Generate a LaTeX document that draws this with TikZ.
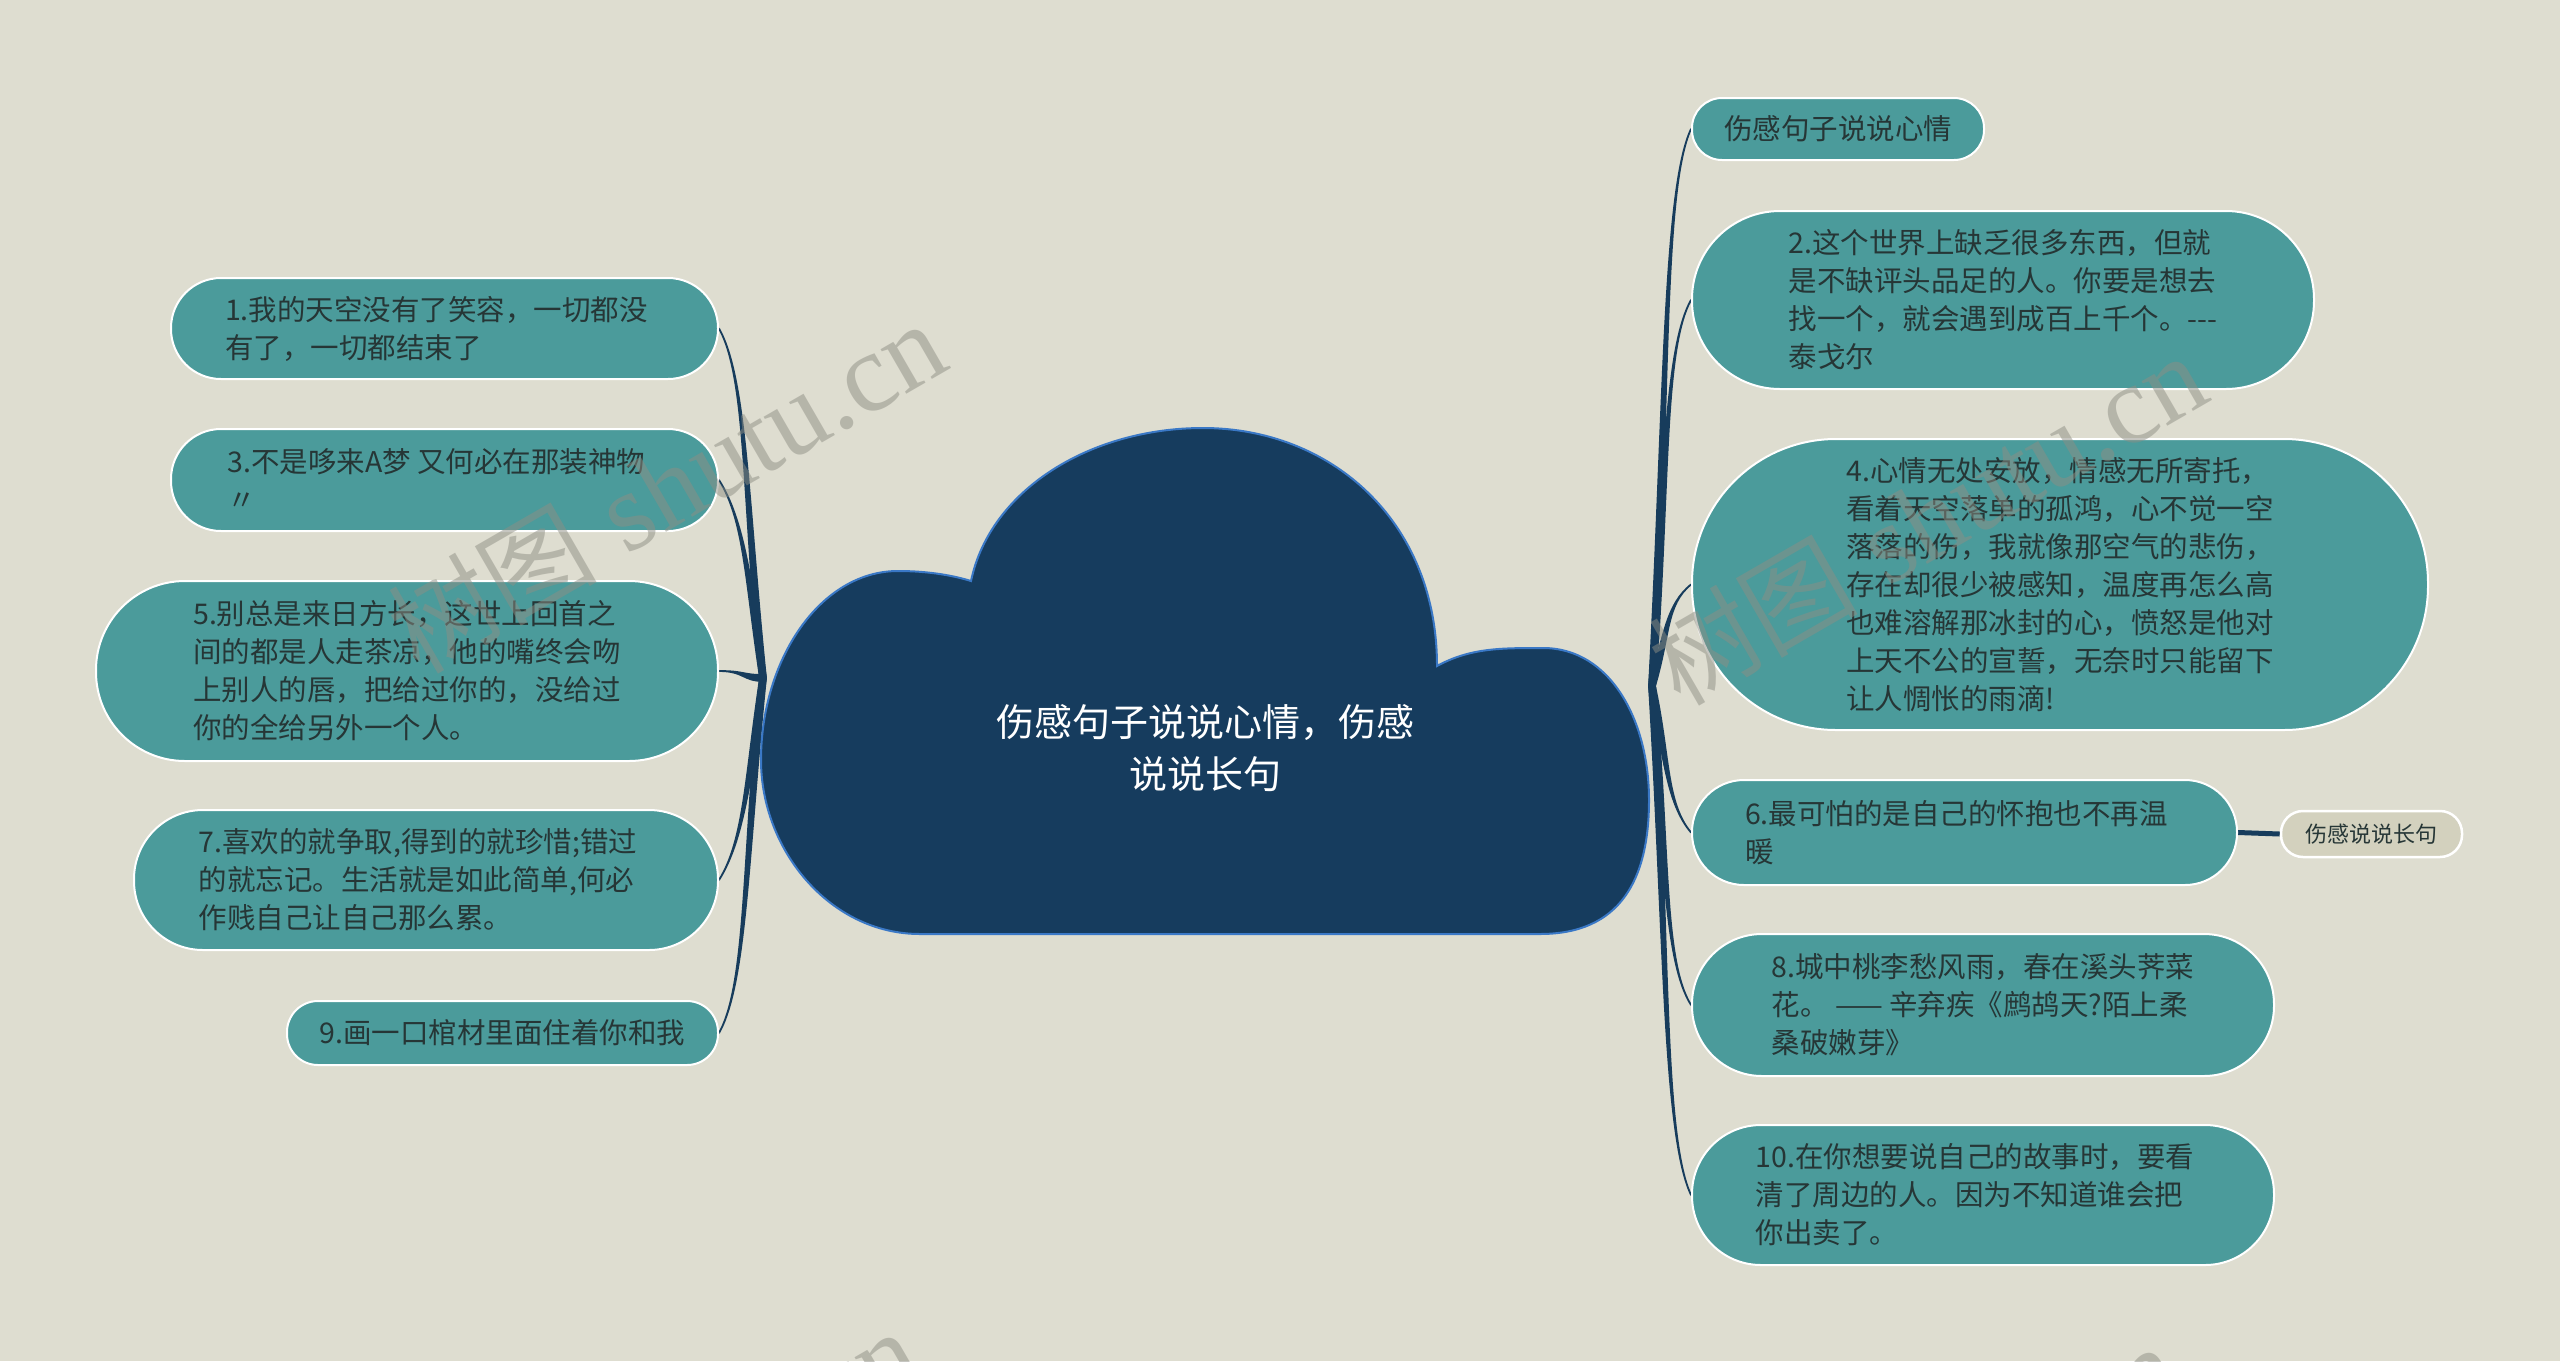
\documentclass[tikz,border=0pt]{standalone}
\usepackage{fontspec}
\setmainfont{Noto Sans CJK SC}
\newfontfamily\wmserif{Liberation Serif}
\usetikzlibrary{calc}
\definecolor{bgc}{HTML}{DEDDD0}
\definecolor{nodeteal}{HTML}{4B9B9B}
\definecolor{txtc}{HTML}{263636}
\definecolor{navyc}{HTML}{163C5E}
\definecolor{cloudedge}{HTML}{3A78C6}
\definecolor{connc}{HTML}{173C5C}
\definecolor{smallfill}{HTML}{D3D1BE}
\definecolor{wmc}{HTML}{8E8E84}
\pgfdeclarelayer{bgl}
\pgfdeclarelayer{lines}
\pgfdeclarelayer{wml}
\pgfsetlayers{bgl,lines,main,wml}
\newcommand{\shl}{\hspace*{16pt}}
\begin{document}
\begin{tikzpicture}[x=1pt,y=-1pt,
  box/.style={draw=white, line width=2pt, fill=nodeteal, text=txtc, inner sep=0pt,
              align=left, font=\fontsize{28.5}{38}\selectfont},
  smallbox/.style={draw=white, line width=2.5pt, fill=smallfill, text=txtc, inner sep=0pt,
              font=\fontsize{22}{26}\selectfont},
  connector/.style={draw=connc, fill=connc, line width=1.8pt, line join=round, line cap=round},
  wmark/.style={text=wmc, opacity=0.5, rotate=30, inner sep=0pt, anchor=center}]
\useasboundingbox (0,0) rectangle (2560,1361);
\begin{pgfonlayer}{bgl}
\fill[bgc] (0,0) rectangle (2560,1361);
\end{pgfonlayer}

% cloud
\draw[fill=navyc, draw=cloudedge, line width=2pt]
  (971,581) .. controls (990,490) and (1090,428) .. (1203,428)
  .. controls (1330,428) and (1437,520) .. (1437,666)
  .. controls (1470,648) and (1500,648) .. (1543,648)
  .. controls (1610,648) and (1649,720) .. (1649,800)
  .. controls (1649,880) and (1620,934) .. (1540,934)
  -- (920,934)
  .. controls (830,934) and (761,850) .. (761,760)
  .. controls (761,660) and (820,571) .. (898,571)
  .. controls (930,571) and (955,576) .. (971,581) -- cycle;
\node[text=white, align=center, inner sep=0pt, font=\fontsize{38}{52}\selectfont] (core) at (1205,748)
  {伤感句子说说心情，伤感\\说说长句};
\coordinate (J1) at (763,678);
\coordinate (J2) at (1652,686);

% left nodes
\node[box, minimum width=547pt, minimum height=101pt, rounded corners=50pt] (n1) at (444.5,328.5)
  {1.我的天空没有了笑容，一切都没\shl\\有了，一切都结束了};
\node[box, minimum width=547pt, minimum height=102pt, rounded corners=50pt] (n3) at (444.5,480)
  {3.不是哆来A梦 又何必在那装神物\shl\\〃};
\node[box, minimum width=622pt, minimum height=180pt, rounded corners=89pt] (n5) at (407,671)
  {5.别总是来日方长，这世上回首之\\间的都是人走茶凉，他的嘴终会吻\shl\\上别人的唇，把给过你的，没给过\\你的全给另外一个人。};
\node[box, minimum width=584pt, minimum height=140pt, rounded corners=69pt] (n7) at (426,880)
  {7.喜欢的就争取,得到的就珍惜;错过\shl\\的就忘记。生活就是如此简单,何必\\作贱自己让自己那么累。};
\node[box, minimum width=431pt, minimum height=64pt, rounded corners=31pt] (n9) at (502.5,1033)
  {9.画一口棺材里面住着你和我};

% right nodes
\node[box, minimum width=292pt, minimum height=62pt, rounded corners=30pt] (r0) at (1838,129)
  {伤感句子说说心情};
\node[box, minimum width=622pt, minimum height=178pt, rounded corners=88pt] (r2) at (2003,300)
  {2.这个世界上缺乏很多东西，但就\\是不缺评头品足的人。你要是想去\\找一个，就会遇到成百上千个。-{}-{}-\shl\\泰戈尔};
\node[box, minimum width=736pt, minimum height=291pt, rounded corners=144pt] (r4) at (2060,584.5)
  {4.心情无处安放，情感无所寄托，\\看着天空落单的孤鸿，心不觉一空\shl\\落落的伤，我就像那空气的悲伤，\\存在却很少被感知，温度再怎么高\\也难溶解那冰封的心，愤怒是他对\\上天不公的宣誓，无奈时只能留下\\让人惆怅的雨滴!};
\node[box, minimum width=545pt, minimum height=105pt, rounded corners=52pt] (r6) at (1964.5,832.5)
  {6.最可怕的是自己的怀抱也不再温\shl\\暖};
\node[smallbox, minimum width=181pt, minimum height=46pt, rounded corners=22pt] (s6) at (2371.5,834)
  {伤感说说长句};
\node[box, minimum width=582pt, minimum height=142pt, rounded corners=70pt] (r8) at (1983,1005)
  {8.城中桃李愁风雨，春在溪头荠菜\\花。 —— 辛弃疾《鹧鸪天?陌上柔\shl\\桑破嫩芽》};
\node[box, minimum width=582pt, minimum height=140pt, rounded corners=69pt] (r10) at (1983,1195)
  {10.在你想要说自己的故事时，要看\shl\\清了周边的人。因为不知道谁会把\\你出卖了。};

% connectors (tapered)
\begin{pgfonlayer}{lines}
\draw[connector] ($(J1)+(-3,0)$) .. controls +(-18,-175) and +(28,50) .. (n1.east)
  .. controls +(28,50) and +(-18,-175) .. ($(J1)+(3,0)$) -- cycle;
\draw[connector] ($(J1)+(-3,0)$) .. controls +(-15,-100) and +(25,40) .. (n3.east)
  .. controls +(25,40) and +(-15,-100) .. ($(J1)+(3,0)$) -- cycle;
\draw[connector] ($(J1)+(0,-3)$) .. controls +(-20,0) and +(25,0) .. (n5.east)
  .. controls +(25,0) and +(-20,0) .. ($(J1)+(0,3)$) -- cycle;
\draw[connector] ($(J1)+(-3,0)$) .. controls +(-15,100) and +(25,-40) .. (n7.east)
  .. controls +(25,-40) and +(-15,100) .. ($(J1)+(3,0)$) -- cycle;
\draw[connector] ($(J1)+(-3,0)$) .. controls +(-18,175) and +(28,-50) .. (n9.east)
  .. controls +(28,-50) and +(-18,175) .. ($(J1)+(3,0)$) -- cycle;
\draw[connector] ($(J2)+(-3,0)$) .. controls +(15,-280) and +(-28,60) .. (r0.west)
  .. controls +(-28,60) and +(15,-280) .. ($(J2)+(3,0)$) -- cycle;
\draw[connector] ($(J2)+(-3,0)$) .. controls +(15,-190) and +(-28,50) .. (r2.west)
  .. controls +(-28,50) and +(15,-190) .. ($(J2)+(3,0)$) -- cycle;
\draw[connector] ($(J2)+(-3,0)$) .. controls +(15,-50) and +(-25,20) .. (r4.west)
  .. controls +(-25,20) and +(15,-50) .. ($(J2)+(3,0)$) -- cycle;
\draw[connector] ($(J2)+(-3,0)$) .. controls +(15,70) and +(-25,-30) .. (r6.west)
  .. controls +(-25,-30) and +(15,70) .. ($(J2)+(3,0)$) -- cycle;
\draw[connector] ($(J2)+(-3,0)$) .. controls +(15,160) and +(-28,-45) .. (r8.west)
  .. controls +(-28,-45) and +(15,160) .. ($(J2)+(3,0)$) -- cycle;
\draw[connector] ($(J2)+(-3,0)$) .. controls +(15,250) and +(-28,-60) .. (r10.west)
  .. controls +(-28,-60) and +(15,250) .. ($(J2)+(3,0)$) -- cycle;
\draw[draw=connc, line width=5pt] (r6.east) -- (s6.west);
\end{pgfonlayer}

% watermarks
\begin{pgfonlayer}{wml}
\begin{scope}
\clip (0,0) rectangle (2560,1361);
\node[wmark] (wm1) at (666,487) {{\fontsize{105}{105}\selectfont 树图}\hspace{30pt}{\wmserif\fontsize{112}{112}\selectfont shutu.cn}};
\node[wmark] (wm2) at (1927,519) {{\fontsize{105}{105}\selectfont 树图}\hspace{30pt}{\wmserif\fontsize{112}{112}\selectfont shutu.cn}};
\node[wmark] (wm3) at (640,1495) {{\fontsize{105}{105}\selectfont 树图}\hspace{30pt}{\wmserif\fontsize{112}{112}\selectfont shutu.cn}};
\node[wmark] (wm4) at (1900,1510) {{\fontsize{105}{105}\selectfont 树图}\hspace{30pt}{\wmserif\fontsize{112}{112}\selectfont shutu.cn}};
\end{scope}
\end{pgfonlayer}
\end{tikzpicture}
\end{document}
